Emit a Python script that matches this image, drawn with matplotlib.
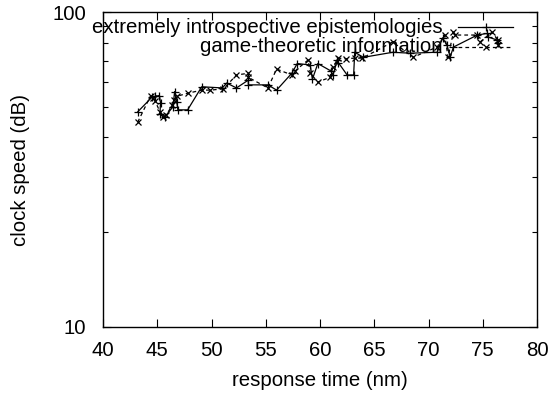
import matplotlib
matplotlib.use("Agg")
import matplotlib.pyplot as plt
from matplotlib.lines import Line2D
from matplotlib.ticker import LogLocator, NullFormatter, FixedLocator

plt.rcParams['font.family'] = ['Liberation Sans', 'DejaVu Sans']

series1_label = "extremely introspective epistemologies"
series1_x = [43.2, 44.5, 44.8, 45.2, 45.3, 45.25, 45.7, 46.45, 46.6, 46.8, 46.9, 47.8,
             49.1, 51.0, 51.4, 52.3, 53.4, 53.4, 55.2, 56.0, 57.4, 57.9, 59.1, 59.3,
             59.8, 61.0, 61.2, 61.6, 61.7, 62.5, 63.1, 63.2, 64.0, 66.7, 68.3, 70.8,
             71.3, 71.7, 72.0, 72.3, 74.5, 75.4, 75.5, 76.3, 76.4]
series1_y = [48.2, 53.6, 54.0, 54.3, 51.5, 47.6, 46.5, 50.0, 55.9, 51.8, 48.9, 48.9,
             57.9, 57.4, 59.5, 57.4, 60.8, 58.7, 58.7, 56.5, 63.9, 68.6, 67.9, 61.2,
             68.6, 65.0, 63.1, 70.4, 69.0, 63.1, 63.1, 74.5, 71.8, 74.5, 74.0, 74.5,
             82.7, 78.5, 72.0, 77.4, 84.5, 85.5, 83.3, 81.5, 79.7]

series2_label = "game-theoretic information"
series2_x = [43.2, 44.4, 44.6, 44.8, 45.25, 45.5, 45.8, 46.4, 46.5, 46.8, 47.8, 49.1,
             49.9, 51.1, 52.3, 53.4, 53.4, 55.2, 56.0, 57.4, 57.7, 58.9, 59.1, 59.8,
             60.9, 61.2, 61.7, 62.4, 63.2, 63.9, 66.7, 68.6, 70.8, 71.5, 71.8, 72.3,
             72.4, 74.5, 74.75, 75.85, 76.4, 76.4]
series2_y = [44.7, 54.3, 53.5, 52.2, 48.2, 46.5, 47.0, 50.6, 52.6, 54.0, 55.2, 56.5,
             56.5, 57.0, 63.1, 63.9, 62.0, 57.4, 65.9, 63.1, 65.0, 70.4, 64.0, 59.9,
             62.0, 66.8, 71.4, 71.0, 71.4, 71.4, 80.3, 71.9, 77.4, 84.5, 71.9, 86.3,
             84.5, 84.5, 80.3, 86.3, 81.5, 78.5]

x_ticks = [40, 45, 50, 55, 60, 65, 70, 75, 80]
y_ticks = [10, 100]

FS = 14.7

fig = plt.figure(figsize=(5.55, 3.93), dpi=100)
ax = fig.add_axes([103/555, 1-327/393, 434/555, 315/393])

ax.plot(series1_x, series1_y, color='black', linestyle='-', linewidth=0.9,
        marker='+', markersize=6, markeredgewidth=0.9)
ax.plot(series2_x, series2_y, color='black', linestyle=(0, (3, 2.5)), linewidth=0.9,
        marker='x', markersize=5, markeredgewidth=0.9)

ax.set_yscale('log')
ax.set_xlim(40, 80)
ax.set_ylim(10, 100)
ax.xaxis.set_major_locator(FixedLocator(x_ticks))
ax.set_xticklabels([str(t) for t in x_ticks])
ax.yaxis.set_major_locator(FixedLocator(y_ticks))
ax.set_yticklabels([str(t) for t in y_ticks])
ax.yaxis.set_minor_locator(LogLocator(base=10, subs=range(2, 10)))
ax.yaxis.set_minor_formatter(NullFormatter())

ax.tick_params(which='both', direction='in', top=True, right=True, labelsize=FS, width=0.8)
ax.tick_params(axis='x', which='major', length=6, pad=10)
ax.tick_params(axis='y', which='major', length=6, pad=12)
ax.tick_params(which='minor', length=3.5)
for s in ax.spines.values():
    s.set_linewidth(1.0)

ax.set_xlabel("response time (nm)", fontsize=FS, labelpad=8)
ax.set_ylabel("clock speed (dB)", fontsize=FS, labelpad=16)

# gnuplot-style key
entries = [(series1_label, '-', '+', 6, 0.952), (series2_label, (0, (3, 2.5)), 'x', 5, 0.889)]
for label, ls, mk, ms, yy in entries:
    ax.text(0.783, yy, label, transform=ax.transAxes, ha='right', va='center', fontsize=FS)
    ax.add_line(Line2D([0.818, 0.945], [yy, yy], transform=ax.transAxes, color='black',
                       linestyle=ls, linewidth=0.9))
    ax.add_line(Line2D([0.8815], [yy], transform=ax.transAxes, color='black',
                       marker=mk, markersize=ms, markeredgewidth=0.9, linestyle='none'))

fig.savefig("out.png", dpi=100)
